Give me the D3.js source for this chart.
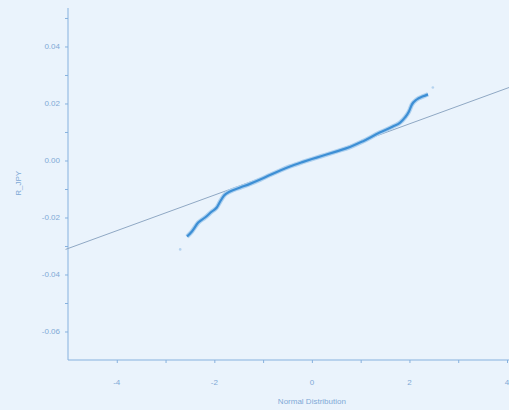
<!DOCTYPE html>
<html>
<head>
<meta charset="utf-8">
<script src="https://cdn.jsdelivr.net/npm/d3@7"></script>
<style>
  body { margin: 0; background: #eaf3fc; }
  svg { display: block; font-family: "Liberation Sans", Arial, sans-serif; }
</style>
</head>
<body>
<div id="chart"></div>
<script>
// theoretical normal quantiles vs sample quantiles
var theoQ  = [-2.70, -2.56, -2.46, -2.33, -2.19, -2.05, -1.95, -1.88, -1.80, -1.68,
              -1.47, -1.27, -1.06, -0.86, -0.65, -0.45, -0.18, 0.00, 0.17, 0.51,
               0.78, 1.04, 1.39, 1.66, 1.81, 1.91, 1.99, 2.05, 2.15, 2.28, 2.38, 2.48];
var sampleQ = [-0.0312, -0.0267, -0.0249, -0.0218, -0.0200, -0.0179, -0.0165, -0.0144, -0.0123, -0.0109,
               -0.0095, -0.0082, -0.0067, -0.0051, -0.0035, -0.0021, -0.0005, 0.0005, 0.0014, 0.0032,
                0.0047, 0.0067, 0.0098, 0.0119, 0.0133, 0.0151, 0.0172, 0.0196, 0.0214, 0.0225, 0.0232, 0.0256];
// reference line ends (normal fit)
var refLineX = [-5.05, 4.2];
var refLineY = [-0.0312, 0.0266];

var xTicks = [-4, -3, -2, -1, 0, 1, 2, 3, 4];
var xLabels = [-4, -2, 0, 2, 4];
var yTicks = [0.05, 0.04, 0.03, 0.02, 0.01, 0.00, -0.01, -0.02, -0.03, -0.04, -0.05, -0.06];
var yLabels = [0.04, 0.02, 0.00, -0.02, -0.04, -0.06];

var width = 509, height = 410;
var textColor = "#7fa9d6", axisColor = "#86b1de";

var x = d3.scaleLinear().domain([-5, 4]).range([68, 507]);
var y = d3.scaleLinear().domain([-0.07, 0.0535]).range([360, 8]);

var svg = d3.select("#chart").append("svg")
  .attr("width", width).attr("height", height);

// y axis
var yAxis = svg.append("g").attr("transform", "translate(" + x(-5) + ",0)")
  .call(d3.axisLeft(y).tickValues(yTicks).tickSize(3).tickFormat(""));
yAxis.select(".domain").attr("d", "M0," + y.range()[1] + "V" + y.range()[0]);
yAxis.selectAll("line, path").attr("stroke", axisColor);

svg.append("g").selectAll("text")
  .data(yLabels).enter().append("text")
    .attr("x", 60).attr("y", function(d) { return y(d) + 3; })
    .attr("text-anchor", "end")
    .attr("font-size", 8).attr("fill", textColor)
    .text(function(d) { return d.toFixed(2); });

// x axis
var xAxis = svg.append("g").attr("transform", "translate(0," + y(-0.07) + ")")
  .call(d3.axisBottom(x).tickValues(xTicks).tickSize(3).tickFormat(""));
xAxis.select(".domain").attr("d", "M" + x(-5) + ",0H" + width);
xAxis.selectAll("line, path").attr("stroke", axisColor);

svg.append("g").selectAll("text")
  .data(xLabels).enter().append("text")
    .attr("x", function(d) { return x(d); }).attr("y", 385)
    .attr("text-anchor", "middle")
    .attr("font-size", 8).attr("fill", textColor)
    .text(function(d) { return String(d); });

// axis titles
svg.append("text")
  .attr("x", x(0)).attr("y", 404)
  .attr("text-anchor", "middle").attr("font-size", 8).attr("fill", textColor)
  .text("Normal Distribution");
svg.append("text")
  .attr("transform", "translate(21," + y(-0.008) + ") rotate(-90)")
  .attr("text-anchor", "middle").attr("font-size", 8).attr("fill", textColor)
  .text("R_JPY");

// reference line
svg.append("line")
  .attr("x1", x(refLineX[0])).attr("y1", y(refLineY[0]))
  .attr("x2", x(refLineX[1])).attr("y2", y(refLineY[1]))
  .attr("stroke", "#8fa8c4").attr("stroke-width", 1);

// sample points
var pts = theoQ.map(function(d, i) { return [d, sampleQ[i]]; });
var core = pts.slice(1, pts.length - 1);
var line = d3.line()
  .x(function(d) { return x(d[0]); })
  .y(function(d) { return y(d[1]); })
  .curve(d3.curveMonotoneX);

svg.append("path")
  .datum(core)
  .attr("fill", "none")
  .attr("stroke", "#add0ef").attr("stroke-width", 4.5)
  .attr("d", line);
svg.append("path")
  .datum(core)
  .attr("fill", "none")
  .attr("stroke", "#3d8fd5").attr("stroke-width", 2.2)
  .attr("d", line);

svg.append("g").selectAll("circle")
  .data([pts[0], pts[pts.length - 1]]).enter().append("circle")
    .attr("cx", function(d) { return x(d[0]); })
    .attr("cy", function(d) { return y(d[1]); })
    .attr("r", 1.3).attr("fill", "#b5d3ef");
</script>
</body>
</html>
